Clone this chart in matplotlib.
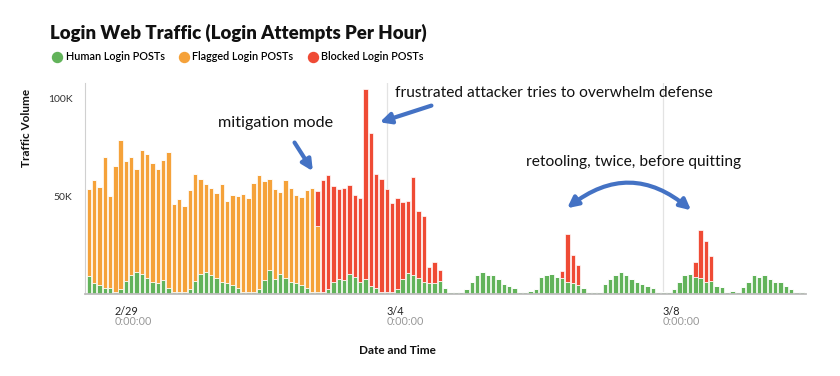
import matplotlib
matplotlib.use('Agg')
import matplotlib.pyplot as plt
import numpy as np
from matplotlib.lines import Line2D
from matplotlib.patches import FancyArrowPatch

# login POSTs per bin, in thousands
human = [9.4, 5.8, 4.6, 3, 3, 1, 2.5, 6.8, 9.9, 11, 10, 8.2, 6.1, 5.8, 7.1,
         3, 1, 1, 1, 2.5, 6.5, 10, 11, 9.9, 8.2, 6.1, 5.6, 4.4, 2.9, 1,
         1, 1, 2.5, 7, 12, 7.6, 10, 8.2, 6.3, 5.6, 4.8, 3, 1, 1, 1,
         2.4, 6.1, 7.5, 7.1, 10, 8.5, 6.1, 7.5, 4.3, 3, 1, 1, 1, 2.5, 7.5,
         10.7, 9.9, 8, 6.1, 5.6, 5.4, 6.5, 2.9, 1, 1, 1, 2.5, 6.3, 9.5, 11,
         9.7, 9.9, 7.5, 5.3, 4.3, 2.9, 1, 1, 1.7, 2.5, 8.8, 9.5, 10.2, 8.5, 8,
         6, 5.6, 4.6, 2.9, 1, 1, 1, 5.3, 7.5, 9.5, 11.2, 9.7, 7.8, 6, 5.1,
         4.3, 2.9, 1, 1, 1, 2.5, 6.3, 9.5, 10.2, 8.8, 8, 6, 6.6, 4.3, 3.7,
         1, 1.7, 1, 3.4, 6.3, 9.5, 8.5, 9.5, 7.8, 6, 6, 4.3, 2.5, 1, 1]

flagged = [44.2, 52.2, 49.8, 67, 47, 64.5, 76.1, 61.2, 60.1, 53, 63.5, 63.2, 60.9, 58.2, 61.3,
           69.4, 44.7, 47.5, 43.7, 50.5, 54.5, 48.5, 45, 44.1, 43.5, 49.9, 42, 46.3, 47.1, 50,
           48, 55.5, 58.2, 50.8, 46.8, 45.8, 42.2, 49.8, 47.9, 45.1, 44.8, 50, 53, 33.9, 0,
           0, 0, 0, 0, 0, 0, 0, 0, 0, 0, 0, 0, 0, 0, 0,
           0, 0, 0, 0, 0, 0, 0, 0, 0, 0, 0, 0, 0, 0, 0,
           0, 0, 0, 0, 0, 0, 0, 0, 0, 0, 0, 0, 0, 0, 0,
           0, 0, 0, 0, 0, 0, 0, 0, 0, 0, 0, 0, 0, 0, 0,
           0, 0, 0, 0, 0, 0, 0, 0, 0, 0, 0, 0, 0, 0, 0,
           0, 0, 0, 0, 0, 0, 0, 0, 0, 0, 0, 0, 0, 0, 0]

blocked = [0, 0, 0, 0, 0, 0, 0, 0, 0, 0, 0, 0, 0, 0, 0,
           0, 0, 0, 0, 0, 0, 0, 0, 0, 0, 0, 0, 0, 0, 0,
           0, 0, 0, 0, 0, 0, 0, 0, 0, 0, 0, 0, 0, 17.8, 57.3,
           58.1, 49.2, 45.9, 47.1, 45.8, 42.2, 42.9, 97.1, 78, 58.2, 57.8, 52.7, 45.3, 46.5, 39.6,
           36.6, 50, 34.3, 33.5, 8.4, 11.1, 5.6, 0, 0, 0, 0, 0, 0, 0, 0,
           0, 0, 0, 0, 0, 0, 0, 0, 0, 0, 0, 0, 0, 0, 3.9,
           24.6, 14.4, 10.4, 0, 0, 0, 0, 0, 0, 0, 0, 0, 0, 0, 0,
           0, 0, 0, 0, 0, 0, 0, 0, 0, 7.4, 24.8, 21.2, 12.6, 0, 0,
           0, 0, 0, 0, 0, 0, 0, 0, 0, 0, 0, 0, 0, 0, 0]

day_labels = ['2/29', '3/4', '3/8']
day_pos = [4.8, 56.0, 107.9]      # midnight, in bin units
marked_days = [56.0, 107.9]

GREEN = '#62b35a'
ORANGE = '#f5a23a'
RED = '#ef4b35'
BLUE = '#4472c4'

plt.rcParams['font.family'] = ['Lato', 'DejaVu Sans']

fig = plt.figure(figsize=(8.4, 3.76), dpi=100)
ax = fig.add_axes([85 / 840, 1 - 294 / 376, 721 / 840, 211 / 376])

x = np.arange(len(human))
human = np.array(human)
flagged = np.array(flagged)
blocked = np.array(blocked)

for d in marked_days:
    ax.axvline(d, color='#e3e3e3', lw=0.9, zorder=0)

kw = dict(width=0.82, edgecolor='white', linewidth=0.5, zorder=2)
ax.bar(x, human, color=GREEN, **kw)
ax.bar(x, flagged, bottom=human, color=ORANGE, **kw)
ax.bar(x, blocked, bottom=human + flagged, color=RED, **kw)

ax.set_xlim(-0.7, 134.8)
ax.set_ylim(0, 107.7)

for s in ['top', 'right']:
    ax.spines[s].set_visible(False)
ax.spines['left'].set_color('#d0d0d0')
ax.spines['left'].set_linewidth(0.8)
ax.spines['bottom'].set_color('#bdbdbd')
ax.spines['bottom'].set_linewidth(1.3)

ax.set_yticks([50, 100])
ax.set_yticklabels(['50K', '100K'], fontsize=7.5, color='#333333')
ax.tick_params(axis='y', length=0, pad=9)
ax.set_xticks([])

for p, lab in zip(day_pos, day_labels):
    ax.annotate(lab, xy=(p, 0), xycoords=('data', 'axes fraction'),
                xytext=(0, -12.5), textcoords='offset points',
                ha='left', va='center', fontsize=7.8, color='#222222')
    ax.annotate('0:00:00', xy=(p, 0), xycoords=('data', 'axes fraction'),
                xytext=(0, -19.5), textcoords='offset points',
                ha='left', va='center', fontsize=7.8, color='#999999')

fig.text(50 / 840, 1 - 33 / 376, 'Login Web Traffic (Login Attempts Per Hour)',
         ha='left', va='center', fontsize=13.4, fontweight='heavy', color='#111111')

handles = [Line2D([], [], marker='o', ls='', markersize=7.2, color=c)
           for c in [GREEN, ORANGE, RED]]
fig.legend(handles, ['Human Login POSTs', 'Flagged Login POSTs', 'Blocked Login POSTs'],
           loc='center left', bbox_to_anchor=(52 / 840, 1 - 57 / 376), ncol=3,
           frameon=False, prop={'size': 7.8, 'weight': 'semibold'},
           handletextpad=0.25, columnspacing=1.3,
           handlelength=1.0, borderpad=0, borderaxespad=0)

fig.text(27 / 840, 1 - 128 / 376, 'Traffic Volume', rotation=90,
         ha='center', va='center', fontsize=8.5, fontweight='bold', color='#111111')
fig.text(397 / 840, 1 - 351 / 376, 'Date and Time',
         ha='center', va='center', fontsize=8.5, fontweight='bold', color='#111111')

# annotations
arrow_kw = dict(arrowstyle='-|>', color=BLUE, lw=3.0, mutation_scale=16)
ax.annotate('', xy=(42.4, 61.5), xytext=(38.4, 78.5), arrowprops=arrow_kw)
ax.text(35.1, 87.2, 'mitigation mode', ha='center', va='center', fontsize=11.6, color='#111111')

ax.annotate('', xy=(54.2, 87.2), xytext=(64.9, 96.6), arrowprops=arrow_kw)
ax.text(87.5, 102.6, 'frustrated attacker tries to overwhelm defense',
        ha='center', va='center', fontsize=11.2, color='#111111')

ax.add_patch(FancyArrowPatch((89.5, 42.9), (113.6, 41.8), arrowstyle='<|-|>',
                             connectionstyle='arc3,rad=-0.42', color=BLUE,
                             lw=3.0, mutation_scale=16, zorder=3))
ax.text(102.3, 67.3, 'retooling, twice, before quitting',
        ha='center', va='center', fontsize=11.2, color='#111111')

fig.savefig('out.png', dpi=100)
